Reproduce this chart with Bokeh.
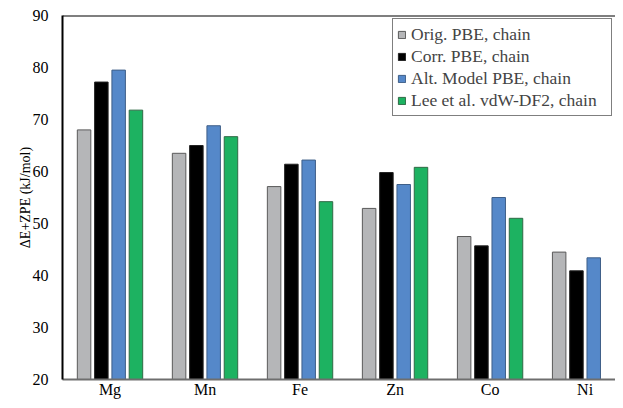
from bokeh.plotting import figure
from bokeh.models import Range1d, FixedTicker, Span, Legend, LegendItem, ColumnDataSource
from bokeh.embed import file_html
from bokeh.resources import INLINE

metals = ["Mg", "Mn", "Fe", "Zn", "Co", "Ni"]
orig_pbe = [68.0, 63.5, 57.1, 52.9, 47.5, 44.5]
corr_pbe = [77.2, 65.0, 61.4, 59.8, 45.7, 40.9]
alt_pbe = [79.5, 68.8, 62.2, 57.5, 55.0, 43.4]
lee_vdw = [71.8, 66.7, 54.2, 60.8, 51.0, float("nan")]
series_names = ["Orig. PBE, chain", "Corr. PBE, chain",
                "Alt. Model PBE, chain", "Lee et al. vdW-DF2, chain"]
y_ticks = [20, 30, 40, 50, 60, 70, 80, 90]

colors = ["#B5B6B8", "#000000", "#5588C9", "#1DB261"]
outline = ["#5A5A5A", "#222222", "#3F5F88", "#2F6A45"]
series = [orig_pbe, corr_pbe, alt_pbe, lee_vdw]

FONT = "Liberation Serif"

p = figure(width=615, height=400, output_backend="svg", toolbar_location=None,
           x_range=Range1d(0, 5.82), y_range=Range1d(20, 90),
           min_border_left=62, min_border_top=15, min_border_right=0,
           min_border_bottom=20)

centers = [i + 0.5 for i in range(len(metals))]
pitch = 0.182
bw = 0.142
items = []
for k, (vals, name) in enumerate(zip(series, series_names)):
    xs = [c + (k - 1.5) * pitch for c in centers]
    src = ColumnDataSource(dict(x=xs, top=vals))
    r = p.vbar(x="x", top="top", bottom=20, width=bw, source=src,
               fill_color=colors[k], line_color=outline[k], line_width=1)
    items.append(LegendItem(label=name, renderers=[r]))

legend = Legend(items=items, location="top_right", margin=3,
                border_line_color="black", border_line_width=1,
                label_text_font=FONT, label_text_font_size="17.5px",
                label_height=22, label_width=196,
                glyph_height=9, glyph_width=9,
                label_standoff=5, padding=4, spacing=0,
                background_fill_alpha=1.0)
p.add_layout(legend)

p.xgrid.visible = False
p.ygrid.visible = False
p.outline_line_color = None
p.background_fill_color = "white"

p.xaxis.ticker = FixedTicker(ticks=centers)
p.xaxis.major_label_overrides = {c: m for c, m in zip(centers, metals)}
p.xaxis.major_tick_line_color = None
p.xaxis.major_tick_out = 0
p.xaxis.major_tick_in = 0
p.xaxis.minor_tick_line_color = None
p.xaxis.axis_line_color = "#6E6E6E"
p.xaxis.axis_line_width = 2
p.xaxis.major_label_text_font = FONT
p.xaxis.major_label_text_font_size = "16px"
p.xaxis.major_label_text_color = "black"
p.xaxis.major_label_standoff = 1

p.yaxis.ticker = FixedTicker(ticks=y_ticks)
p.yaxis.major_tick_line_color = None
p.yaxis.major_tick_out = 0
p.yaxis.major_tick_in = 0
p.yaxis.minor_tick_line_color = None
p.yaxis.axis_line_color = "black"
p.yaxis.axis_line_width = 2
p.yaxis.major_label_text_font = FONT
p.yaxis.major_label_text_font_size = "16px"
p.yaxis.major_label_text_color = "black"
p.yaxis.major_label_standoff = 14
p.yaxis.axis_label = "ΔE+ZPE (kJ/mol)"
p.yaxis.axis_label_text_font = FONT
p.yaxis.axis_label_text_font_size = "14px"
p.yaxis.axis_label_text_font_style = "normal"
p.yaxis.axis_label_text_color = "black"
p.yaxis.axis_label_standoff = -3

p.add_layout(Span(location=90, dimension="width", line_color="black", line_width=2))

open("out.html", "w").write(file_html(p, INLINE))
